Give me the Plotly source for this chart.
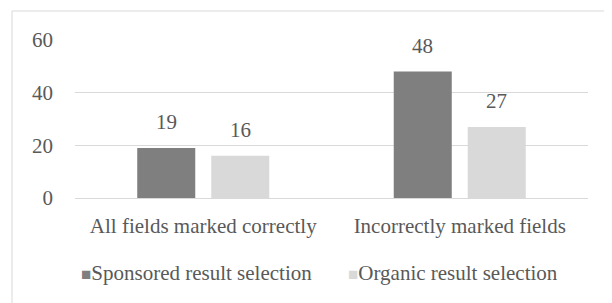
import plotly.graph_objects as go

categories = ["All fields marked correctly", "Incorrectly marked fields"]
sponsored = [19, 48]
organic = [16, 27]
series_names = ["Sponsored result selection", "Organic result selection"]
y_ticks = [0, 20, 40, 60]

FONT = "Liberation Serif, Times New Roman, serif"
TXT = "#595959"
DARK = "#7f7f7f"
LIGHT = "#d9d9d9"

fig = go.Figure()
fig.add_trace(go.Bar(x=categories, y=sponsored, name=series_names[0],
                     marker=dict(color=DARK, line=dict(width=0))))
fig.add_trace(go.Bar(x=categories, y=organic, name=series_names[1],
                     marker=dict(color=LIGHT, line=dict(width=0))))

# value labels above bars
for vals, shift in ((sponsored, -37), (organic, 37)):
    for c, v in zip(categories, vals):
        fig.add_annotation(x=c, y=v, text=str(v), showarrow=False,
                           xref="x", yref="y", xshift=shift, yshift=26,
                           font=dict(family=FONT, size=21, color=TXT))

OFF = 8  # default page body margin
W, H = 612 - OFF, 303 - OFF
PX0, PX1, PY0, PY1 = 75 - OFF, 588 - OFF, 40 - OFF, 198 - OFF  # plot area in figure px
L, R, T, B = PX0, W - PX1, PY0, H - PY1
pw, ph = PX1 - PX0, PY1 - PY0

def px(x):
    return (x - OFF - PX0) / pw

def py(y):
    return (PY1 - (y - OFF)) / ph

# outer chart border
fig.add_shape(type="rect", xref="paper", yref="paper",
              x0=px(12), x1=px(605), y0=py(330), y1=py(11),
              line=dict(color=LIGHT, width=1), fillcolor="rgba(0,0,0,0)", layer="below")

# legend (compact, Excel-like)
for name, color, xl in ((series_names[0], DARK, 79), (series_names[1], LIGHT, 346)):
    fig.add_annotation(xref="paper", yref="paper", x=px(xl), y=py(273),
                       xanchor="left", yanchor="middle", showarrow=False,
                       text=f"<span style='color:{color};font-size:17px'>■</span>{name}",
                       font=dict(family=FONT, size=21, color=TXT))

fig.update_layout(
    width=W, height=H,
    margin=dict(l=L, r=R, t=T, b=B, autoexpand=False),
    paper_bgcolor="white", plot_bgcolor="white",
    barmode="group", bargap=0.423, bargroupgap=0.216,
    font=dict(family=FONT, size=21, color=TXT),
    showlegend=False,
    xaxis=dict(showgrid=False, showline=False, ticks="", ticklabelstandoff=13,
               tickfont=dict(family=FONT, size=21, color=TXT)),
    yaxis=dict(range=[0, 60], tickvals=y_ticks, showgrid=True, gridcolor=LIGHT,
               gridwidth=1, zeroline=True, zerolinecolor=LIGHT, zerolinewidth=1,
               showline=False, ticks="", ticklabelstandoff=21,
               tickfont=dict(family=FONT, size=21, color=TXT)),
)

fig.write_html("out.html")
